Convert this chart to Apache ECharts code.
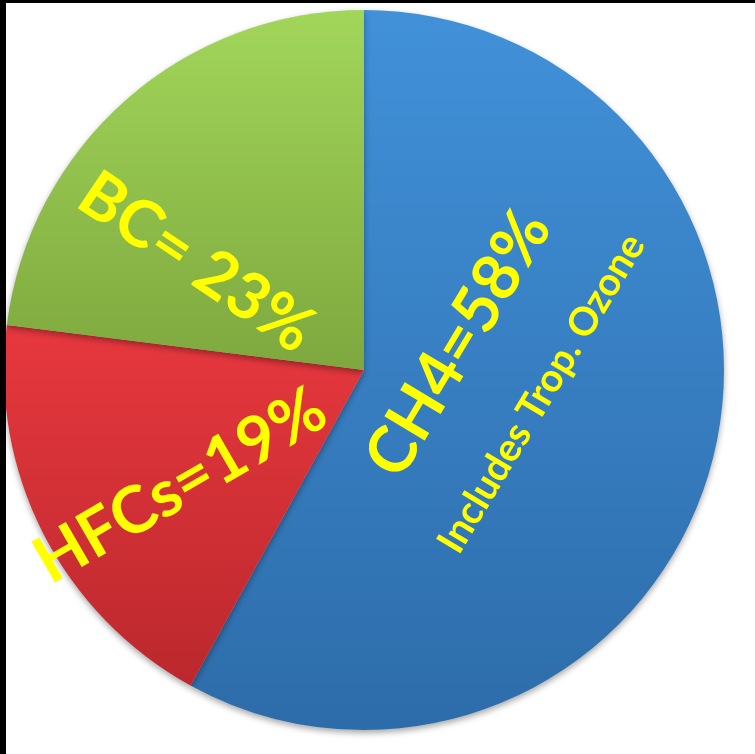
<!DOCTYPE html>
<html>
<head>
<meta charset="utf-8">
<script src="https://cdn.jsdelivr.net/npm/echarts@6/dist/echarts.min.js"></script>
<style>
  html, body {
    margin: 0;
    padding: 0;
    width: 755px;
    height: 754px;
    background: #000;
    overflow: hidden;
  }
  #chart {
    position: absolute;
    left: 6px;
    top: 3px;
    width: 749px;
    height: 751px;
    background: #fff;
  }
</style>
</head>
<body>
<div id="chart"></div>
<script>
// 各类排放占比（%）
const names = ["CH4", "HFCs", "BC"];
const shares = [58, 19, 23];
const separators = ["=", "=", "= "];
const notes = ["Includes Trop. Ozone", "", ""];

// 每块扇形的上下渐变色
const topColors = ["#4191d9", "#e7383e", "#a2d65a"];
const bottomColors = ["#2d6caa", "#bb282d", "#7ea83e"];
// 标签旋转角度与偏移（偏移是标签自身旋转后的坐标）
const labelRotate = [59, 30, -34];
const labelShift = [[19, -66], [-34, 18], [-22, 51]];

const chart = echarts.init(document.getElementById("chart"));

const pieData = names.map((name, i) => ({
  name: name,
  value: shares[i],
  itemStyle: {
    color: new echarts.graphic.LinearGradient(0, 0, 0, 1, [
      { offset: 0, color: topColors[i] },
      { offset: 1, color: bottomColors[i] },
    ]),
  },
  label: {
    rotate: labelRotate[i],
  },
}));

chart.setOption({
  animation: false,
  series: [
    {
      type: "pie",
      center: [358, 367],
      radius: 360,
      startAngle: 90,
      clockwise: true,
      avoidLabelOverlap: false,
      data: pieData,
      itemStyle: {
        borderWidth: 0,
        shadowColor: "rgba(0,0,0,0.35)",
        shadowBlur: 6,
        shadowOffsetY: 3,
      },
      label: {
        show: true,
        position: "inside",
        color: "#ffff00",
        fontFamily: "Lato",
        formatter: (p) => {
          const i = p.dataIndex;
          const main = "{big|" + p.name + separators[i] + p.value + "%}";
          return notes[i] ? main + "\n{small|" + notes[i] + "}" : main;
        },
        rich: {
          big: {
            color: "#ffff00",
            fontFamily: "Lato",
            fontWeight: "bold",
            fontSize: 65,
            lineHeight: 110,
          },
          small: {
            color: "#ffff00",
            fontFamily: "Lato",
            fontWeight: "bold",
            fontSize: 39,
            lineHeight: 84,
          },
        },
      },
      labelLine: { show: false },
      labelLayout: (params) => ({
        dx: labelShift[params.dataIndex][0],
        dy: labelShift[params.dataIndex][1],
      }),
    },
  ],
});
</script>
</body>
</html>
